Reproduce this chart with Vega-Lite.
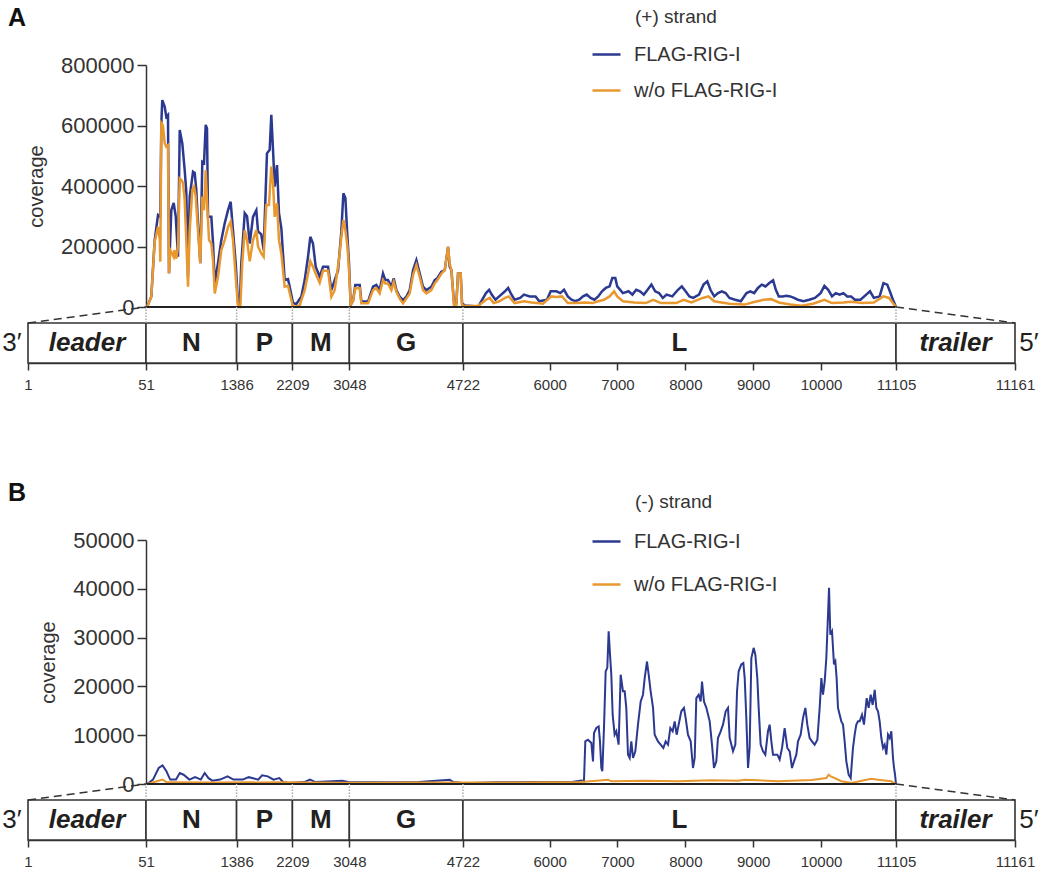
{
  "$schema": "https://vega.github.io/schema/vega-lite/v6.json",
  "padding": {"left": 2, "top": 6, "right": 2, "bottom": 0},
  "background": "white",
  "config": {
    "view": {"stroke": null},
    "font": "Liberation Sans",
    "axis": {"grid": false, "labelColor": "#333", "tickColor": "#333", "domainColor": "#333", "titleColor": "#333"},
    "legend": {"labelColor": "#333", "titleColor": "#333"}
  },
  "resolve": {"scale": {"color": "independent"}, "legend": {"color": "independent"}},
  "datasets": {
    "segments": [
      {"name": "leader", "start": 1, "end": 51},
      {"name": "N", "start": 51, "end": 1386},
      {"name": "P", "start": 1386, "end": 2209},
      {"name": "M", "start": 2209, "end": 3048},
      {"name": "G", "start": 3048, "end": 4722},
      {"name": "L", "start": 4722, "end": 11105},
      {"name": "trailer", "start": 11105, "end": 11161}
    ],
    "coverage": [
      {"strand":"+","sample":"FLAG-RIG-I","pos":66,"cov":0},
      {"strand":"+","sample":"FLAG-RIG-I","pos":129,"cov":34000},
      {"strand":"+","sample":"FLAG-RIG-I","pos":179,"cov":221000},
      {"strand":"+","sample":"FLAG-RIG-I","pos":228,"cov":304000},
      {"strand":"+","sample":"FLAG-RIG-I","pos":262,"cov":298000},
      {"strand":"+","sample":"FLAG-RIG-I","pos":277,"cov":608000},
      {"strand":"+","sample":"FLAG-RIG-I","pos":291,"cov":684000},
      {"strand":"+","sample":"FLAG-RIG-I","pos":327,"cov":662000},
      {"strand":"+","sample":"FLAG-RIG-I","pos":350,"cov":629000},
      {"strand":"+","sample":"FLAG-RIG-I","pos":375,"cov":635000},
      {"strand":"+","sample":"FLAG-RIG-I","pos":390,"cov":112000},
      {"strand":"+","sample":"FLAG-RIG-I","pos":424,"cov":320000},
      {"strand":"+","sample":"FLAG-RIG-I","pos":459,"cov":344000},
      {"strand":"+","sample":"FLAG-RIG-I","pos":489,"cov":300000},
      {"strand":"+","sample":"FLAG-RIG-I","pos":523,"cov":166000},
      {"strand":"+","sample":"FLAG-RIG-I","pos":548,"cov":585000},
      {"strand":"+","sample":"FLAG-RIG-I","pos":586,"cov":541000},
      {"strand":"+","sample":"FLAG-RIG-I","pos":621,"cov":453000},
      {"strand":"+","sample":"FLAG-RIG-I","pos":645,"cov":380000},
      {"strand":"+","sample":"FLAG-RIG-I","pos":670,"cov":100000},
      {"strand":"+","sample":"FLAG-RIG-I","pos":695,"cov":365000},
      {"strand":"+","sample":"FLAG-RIG-I","pos":744,"cov":447000},
      {"strand":"+","sample":"FLAG-RIG-I","pos":769,"cov":443000},
      {"strand":"+","sample":"FLAG-RIG-I","pos":792,"cov":387000},
      {"strand":"+","sample":"FLAG-RIG-I","pos":817,"cov":277000},
      {"strand":"+","sample":"FLAG-RIG-I","pos":851,"cov":145000},
      {"strand":"+","sample":"FLAG-RIG-I","pos":881,"cov":480000},
      {"strand":"+","sample":"FLAG-RIG-I","pos":906,"cov":476000},
      {"strand":"+","sample":"FLAG-RIG-I","pos":931,"cov":602000},
      {"strand":"+","sample":"FLAG-RIG-I","pos":950,"cov":590000},
      {"strand":"+","sample":"FLAG-RIG-I","pos":965,"cov":298000},
      {"strand":"+","sample":"FLAG-RIG-I","pos":1014,"cov":298000},
      {"strand":"+","sample":"FLAG-RIG-I","pos":1039,"cov":211000},
      {"strand":"+","sample":"FLAG-RIG-I","pos":1064,"cov":79000},
      {"strand":"+","sample":"FLAG-RIG-I","pos":1112,"cov":145000},
      {"strand":"+","sample":"FLAG-RIG-I","pos":1161,"cov":221000},
      {"strand":"+","sample":"FLAG-RIG-I","pos":1211,"cov":277000},
      {"strand":"+","sample":"FLAG-RIG-I","pos":1260,"cov":320000},
      {"strand":"+","sample":"FLAG-RIG-I","pos":1299,"cov":348000},
      {"strand":"+","sample":"FLAG-RIG-I","pos":1333,"cov":254000},
      {"strand":"+","sample":"FLAG-RIG-I","pos":1373,"cov":145000},
      {"strand":"+","sample":"FLAG-RIG-I","pos":1407,"cov":13000},
      {"strand":"+","sample":"FLAG-RIG-I","pos":1432,"cov":0},
      {"strand":"+","sample":"FLAG-RIG-I","pos":1456,"cov":145000},
      {"strand":"+","sample":"FLAG-RIG-I","pos":1506,"cov":310000},
      {"strand":"+","sample":"FLAG-RIG-I","pos":1540,"cov":300000},
      {"strand":"+","sample":"FLAG-RIG-I","pos":1580,"cov":210000},
      {"strand":"+","sample":"FLAG-RIG-I","pos":1628,"cov":298000},
      {"strand":"+","sample":"FLAG-RIG-I","pos":1677,"cov":320000},
      {"strand":"+","sample":"FLAG-RIG-I","pos":1702,"cov":250000},
      {"strand":"+","sample":"FLAG-RIG-I","pos":1750,"cov":240000},
      {"strand":"+","sample":"FLAG-RIG-I","pos":1785,"cov":188000},
      {"strand":"+","sample":"FLAG-RIG-I","pos":1834,"cov":508000},
      {"strand":"+","sample":"FLAG-RIG-I","pos":1874,"cov":520000},
      {"strand":"+","sample":"FLAG-RIG-I","pos":1898,"cov":635000},
      {"strand":"+","sample":"FLAG-RIG-I","pos":1923,"cov":520000},
      {"strand":"+","sample":"FLAG-RIG-I","pos":1948,"cov":398000},
      {"strand":"+","sample":"FLAG-RIG-I","pos":1982,"cov":469000},
      {"strand":"+","sample":"FLAG-RIG-I","pos":2011,"cov":310000},
      {"strand":"+","sample":"FLAG-RIG-I","pos":2046,"cov":260000},
      {"strand":"+","sample":"FLAG-RIG-I","pos":2095,"cov":89000},
      {"strand":"+","sample":"FLAG-RIG-I","pos":2144,"cov":92000},
      {"strand":"+","sample":"FLAG-RIG-I","pos":2169,"cov":67000},
      {"strand":"+","sample":"FLAG-RIG-I","pos":2218,"cov":13000},
      {"strand":"+","sample":"FLAG-RIG-I","pos":2266,"cov":10000},
      {"strand":"+","sample":"FLAG-RIG-I","pos":2340,"cov":34000},
      {"strand":"+","sample":"FLAG-RIG-I","pos":2390,"cov":89000},
      {"strand":"+","sample":"FLAG-RIG-I","pos":2439,"cov":166000},
      {"strand":"+","sample":"FLAG-RIG-I","pos":2473,"cov":232000},
      {"strand":"+","sample":"FLAG-RIG-I","pos":2512,"cov":210000},
      {"strand":"+","sample":"FLAG-RIG-I","pos":2552,"cov":133000},
      {"strand":"+","sample":"FLAG-RIG-I","pos":2611,"cov":100000},
      {"strand":"+","sample":"FLAG-RIG-I","pos":2660,"cov":133000},
      {"strand":"+","sample":"FLAG-RIG-I","pos":2734,"cov":133000},
      {"strand":"+","sample":"FLAG-RIG-I","pos":2783,"cov":56000},
      {"strand":"+","sample":"FLAG-RIG-I","pos":2832,"cov":89000},
      {"strand":"+","sample":"FLAG-RIG-I","pos":2881,"cov":120000},
      {"strand":"+","sample":"FLAG-RIG-I","pos":2930,"cov":250000},
      {"strand":"+","sample":"FLAG-RIG-I","pos":2960,"cov":376000},
      {"strand":"+","sample":"FLAG-RIG-I","pos":2990,"cov":360000},
      {"strand":"+","sample":"FLAG-RIG-I","pos":3014,"cov":254000},
      {"strand":"+","sample":"FLAG-RIG-I","pos":3043,"cov":145000},
      {"strand":"+","sample":"FLAG-RIG-I","pos":3068,"cov":7000},
      {"strand":"+","sample":"FLAG-RIG-I","pos":3102,"cov":20000},
      {"strand":"+","sample":"FLAG-RIG-I","pos":3136,"cov":73000},
      {"strand":"+","sample":"FLAG-RIG-I","pos":3201,"cov":73000},
      {"strand":"+","sample":"FLAG-RIG-I","pos":3225,"cov":18000},
      {"strand":"+","sample":"FLAG-RIG-I","pos":3323,"cov":18000},
      {"strand":"+","sample":"FLAG-RIG-I","pos":3397,"cov":67000},
      {"strand":"+","sample":"FLAG-RIG-I","pos":3446,"cov":73000},
      {"strand":"+","sample":"FLAG-RIG-I","pos":3495,"cov":56000},
      {"strand":"+","sample":"FLAG-RIG-I","pos":3544,"cov":111000},
      {"strand":"+","sample":"FLAG-RIG-I","pos":3578,"cov":89000},
      {"strand":"+","sample":"FLAG-RIG-I","pos":3618,"cov":89000},
      {"strand":"+","sample":"FLAG-RIG-I","pos":3667,"cov":67000},
      {"strand":"+","sample":"FLAG-RIG-I","pos":3702,"cov":95000},
      {"strand":"+","sample":"FLAG-RIG-I","pos":3741,"cov":56000},
      {"strand":"+","sample":"FLAG-RIG-I","pos":3790,"cov":34000},
      {"strand":"+","sample":"FLAG-RIG-I","pos":3839,"cov":23000},
      {"strand":"+","sample":"FLAG-RIG-I","pos":3888,"cov":34000},
      {"strand":"+","sample":"FLAG-RIG-I","pos":3938,"cov":56000},
      {"strand":"+","sample":"FLAG-RIG-I","pos":3987,"cov":122000},
      {"strand":"+","sample":"FLAG-RIG-I","pos":4036,"cov":155000},
      {"strand":"+","sample":"FLAG-RIG-I","pos":4085,"cov":111000},
      {"strand":"+","sample":"FLAG-RIG-I","pos":4134,"cov":67000},
      {"strand":"+","sample":"FLAG-RIG-I","pos":4183,"cov":56000},
      {"strand":"+","sample":"FLAG-RIG-I","pos":4257,"cov":67000},
      {"strand":"+","sample":"FLAG-RIG-I","pos":4306,"cov":89000},
      {"strand":"+","sample":"FLAG-RIG-I","pos":4345,"cov":95000},
      {"strand":"+","sample":"FLAG-RIG-I","pos":4404,"cov":117000},
      {"strand":"+","sample":"FLAG-RIG-I","pos":4454,"cov":122000},
      {"strand":"+","sample":"FLAG-RIG-I","pos":4503,"cov":199000},
      {"strand":"+","sample":"FLAG-RIG-I","pos":4527,"cov":133000},
      {"strand":"+","sample":"FLAG-RIG-I","pos":4552,"cov":122000},
      {"strand":"+","sample":"FLAG-RIG-I","pos":4591,"cov":12000},
      {"strand":"+","sample":"FLAG-RIG-I","pos":4625,"cov":12000},
      {"strand":"+","sample":"FLAG-RIG-I","pos":4650,"cov":111000},
      {"strand":"+","sample":"FLAG-RIG-I","pos":4689,"cov":111000},
      {"strand":"+","sample":"FLAG-RIG-I","pos":4709,"cov":13000},
      {"strand":"+","sample":"FLAG-RIG-I","pos":4748,"cov":5000},
      {"strand":"+","sample":"FLAG-RIG-I","pos":4950,"cov":2000},
      {"strand":"+","sample":"FLAG-RIG-I","pos":5062,"cov":46000},
      {"strand":"+","sample":"FLAG-RIG-I","pos":5108,"cov":57000},
      {"strand":"+","sample":"FLAG-RIG-I","pos":5146,"cov":41000},
      {"strand":"+","sample":"FLAG-RIG-I","pos":5202,"cov":24000},
      {"strand":"+","sample":"FLAG-RIG-I","pos":5286,"cov":41000},
      {"strand":"+","sample":"FLAG-RIG-I","pos":5342,"cov":52000},
      {"strand":"+","sample":"FLAG-RIG-I","pos":5388,"cov":63000},
      {"strand":"+","sample":"FLAG-RIG-I","pos":5426,"cov":46000},
      {"strand":"+","sample":"FLAG-RIG-I","pos":5482,"cov":24000},
      {"strand":"+","sample":"FLAG-RIG-I","pos":5566,"cov":30000},
      {"strand":"+","sample":"FLAG-RIG-I","pos":5622,"cov":41000},
      {"strand":"+","sample":"FLAG-RIG-I","pos":5706,"cov":35000},
      {"strand":"+","sample":"FLAG-RIG-I","pos":5792,"cov":35000},
      {"strand":"+","sample":"FLAG-RIG-I","pos":5848,"cov":19000},
      {"strand":"+","sample":"FLAG-RIG-I","pos":5960,"cov":24000},
      {"strand":"+","sample":"FLAG-RIG-I","pos":6016,"cov":52000},
      {"strand":"+","sample":"FLAG-RIG-I","pos":6100,"cov":52000},
      {"strand":"+","sample":"FLAG-RIG-I","pos":6156,"cov":46000},
      {"strand":"+","sample":"FLAG-RIG-I","pos":6212,"cov":57000},
      {"strand":"+","sample":"FLAG-RIG-I","pos":6267,"cov":35000},
      {"strand":"+","sample":"FLAG-RIG-I","pos":6323,"cov":24000},
      {"strand":"+","sample":"FLAG-RIG-I","pos":6380,"cov":19000},
      {"strand":"+","sample":"FLAG-RIG-I","pos":6436,"cov":24000},
      {"strand":"+","sample":"FLAG-RIG-I","pos":6492,"cov":35000},
      {"strand":"+","sample":"FLAG-RIG-I","pos":6547,"cov":41000},
      {"strand":"+","sample":"FLAG-RIG-I","pos":6603,"cov":30000},
      {"strand":"+","sample":"FLAG-RIG-I","pos":6660,"cov":24000},
      {"strand":"+","sample":"FLAG-RIG-I","pos":6716,"cov":35000},
      {"strand":"+","sample":"FLAG-RIG-I","pos":6772,"cov":52000},
      {"strand":"+","sample":"FLAG-RIG-I","pos":6828,"cov":63000},
      {"strand":"+","sample":"FLAG-RIG-I","pos":6884,"cov":68000},
      {"strand":"+","sample":"FLAG-RIG-I","pos":6924,"cov":96000},
      {"strand":"+","sample":"FLAG-RIG-I","pos":6968,"cov":96000},
      {"strand":"+","sample":"FLAG-RIG-I","pos":6996,"cov":68000},
      {"strand":"+","sample":"FLAG-RIG-I","pos":7080,"cov":46000},
      {"strand":"+","sample":"FLAG-RIG-I","pos":7164,"cov":52000},
      {"strand":"+","sample":"FLAG-RIG-I","pos":7220,"cov":41000},
      {"strand":"+","sample":"FLAG-RIG-I","pos":7276,"cov":57000},
      {"strand":"+","sample":"FLAG-RIG-I","pos":7332,"cov":52000},
      {"strand":"+","sample":"FLAG-RIG-I","pos":7388,"cov":41000},
      {"strand":"+","sample":"FLAG-RIG-I","pos":7444,"cov":57000},
      {"strand":"+","sample":"FLAG-RIG-I","pos":7500,"cov":74000},
      {"strand":"+","sample":"FLAG-RIG-I","pos":7556,"cov":52000},
      {"strand":"+","sample":"FLAG-RIG-I","pos":7612,"cov":46000},
      {"strand":"+","sample":"FLAG-RIG-I","pos":7668,"cov":30000},
      {"strand":"+","sample":"FLAG-RIG-I","pos":7724,"cov":41000},
      {"strand":"+","sample":"FLAG-RIG-I","pos":7808,"cov":35000},
      {"strand":"+","sample":"FLAG-RIG-I","pos":7892,"cov":57000},
      {"strand":"+","sample":"FLAG-RIG-I","pos":7948,"cov":68000},
      {"strand":"+","sample":"FLAG-RIG-I","pos":8004,"cov":52000},
      {"strand":"+","sample":"FLAG-RIG-I","pos":8060,"cov":35000},
      {"strand":"+","sample":"FLAG-RIG-I","pos":8116,"cov":30000},
      {"strand":"+","sample":"FLAG-RIG-I","pos":8202,"cov":41000},
      {"strand":"+","sample":"FLAG-RIG-I","pos":8268,"cov":74000},
      {"strand":"+","sample":"FLAG-RIG-I","pos":8324,"cov":85000},
      {"strand":"+","sample":"FLAG-RIG-I","pos":8370,"cov":57000},
      {"strand":"+","sample":"FLAG-RIG-I","pos":8426,"cov":35000},
      {"strand":"+","sample":"FLAG-RIG-I","pos":8482,"cov":46000},
      {"strand":"+","sample":"FLAG-RIG-I","pos":8538,"cov":52000},
      {"strand":"+","sample":"FLAG-RIG-I","pos":8594,"cov":46000},
      {"strand":"+","sample":"FLAG-RIG-I","pos":8650,"cov":30000},
      {"strand":"+","sample":"FLAG-RIG-I","pos":8734,"cov":24000},
      {"strand":"+","sample":"FLAG-RIG-I","pos":8818,"cov":19000},
      {"strand":"+","sample":"FLAG-RIG-I","pos":8902,"cov":46000},
      {"strand":"+","sample":"FLAG-RIG-I","pos":8958,"cov":52000},
      {"strand":"+","sample":"FLAG-RIG-I","pos":9014,"cov":46000},
      {"strand":"+","sample":"FLAG-RIG-I","pos":9070,"cov":63000},
      {"strand":"+","sample":"FLAG-RIG-I","pos":9126,"cov":74000},
      {"strand":"+","sample":"FLAG-RIG-I","pos":9182,"cov":68000},
      {"strand":"+","sample":"FLAG-RIG-I","pos":9238,"cov":79000},
      {"strand":"+","sample":"FLAG-RIG-I","pos":9294,"cov":88000},
      {"strand":"+","sample":"FLAG-RIG-I","pos":9334,"cov":57000},
      {"strand":"+","sample":"FLAG-RIG-I","pos":9378,"cov":35000},
      {"strand":"+","sample":"FLAG-RIG-I","pos":9434,"cov":35000},
      {"strand":"+","sample":"FLAG-RIG-I","pos":9490,"cov":37000},
      {"strand":"+","sample":"FLAG-RIG-I","pos":9546,"cov":35000},
      {"strand":"+","sample":"FLAG-RIG-I","pos":9602,"cov":30000},
      {"strand":"+","sample":"FLAG-RIG-I","pos":9658,"cov":24000},
      {"strand":"+","sample":"FLAG-RIG-I","pos":9742,"cov":19000},
      {"strand":"+","sample":"FLAG-RIG-I","pos":9826,"cov":24000},
      {"strand":"+","sample":"FLAG-RIG-I","pos":9910,"cov":30000},
      {"strand":"+","sample":"FLAG-RIG-I","pos":9994,"cov":46000},
      {"strand":"+","sample":"FLAG-RIG-I","pos":10050,"cov":70000},
      {"strand":"+","sample":"FLAG-RIG-I","pos":10106,"cov":57000},
      {"strand":"+","sample":"FLAG-RIG-I","pos":10162,"cov":35000},
      {"strand":"+","sample":"FLAG-RIG-I","pos":10218,"cov":46000},
      {"strand":"+","sample":"FLAG-RIG-I","pos":10274,"cov":41000},
      {"strand":"+","sample":"FLAG-RIG-I","pos":10330,"cov":46000},
      {"strand":"+","sample":"FLAG-RIG-I","pos":10386,"cov":35000},
      {"strand":"+","sample":"FLAG-RIG-I","pos":10442,"cov":35000},
      {"strand":"+","sample":"FLAG-RIG-I","pos":10498,"cov":24000},
      {"strand":"+","sample":"FLAG-RIG-I","pos":10582,"cov":24000},
      {"strand":"+","sample":"FLAG-RIG-I","pos":10666,"cov":41000},
      {"strand":"+","sample":"FLAG-RIG-I","pos":10722,"cov":52000},
      {"strand":"+","sample":"FLAG-RIG-I","pos":10778,"cov":30000},
      {"strand":"+","sample":"FLAG-RIG-I","pos":10864,"cov":35000},
      {"strand":"+","sample":"FLAG-RIG-I","pos":10920,"cov":79000},
      {"strand":"+","sample":"FLAG-RIG-I","pos":10976,"cov":74000},
      {"strand":"+","sample":"FLAG-RIG-I","pos":11014,"cov":52000},
      {"strand":"+","sample":"FLAG-RIG-I","pos":11060,"cov":24000},
      {"strand":"+","sample":"FLAG-RIG-I","pos":11105,"cov":0},
      {"strand":"+","sample":"w/o FLAG-RIG-I","pos":66,"cov":0},
      {"strand":"+","sample":"w/o FLAG-RIG-I","pos":129,"cov":34000},
      {"strand":"+","sample":"w/o FLAG-RIG-I","pos":179,"cov":215000},
      {"strand":"+","sample":"w/o FLAG-RIG-I","pos":228,"cov":265000},
      {"strand":"+","sample":"w/o FLAG-RIG-I","pos":255,"cov":221000},
      {"strand":"+","sample":"w/o FLAG-RIG-I","pos":262,"cov":150000},
      {"strand":"+","sample":"w/o FLAG-RIG-I","pos":277,"cov":608000},
      {"strand":"+","sample":"w/o FLAG-RIG-I","pos":300,"cov":600000},
      {"strand":"+","sample":"w/o FLAG-RIG-I","pos":327,"cov":541000},
      {"strand":"+","sample":"w/o FLAG-RIG-I","pos":350,"cov":530000},
      {"strand":"+","sample":"w/o FLAG-RIG-I","pos":375,"cov":535000},
      {"strand":"+","sample":"w/o FLAG-RIG-I","pos":390,"cov":111000},
      {"strand":"+","sample":"w/o FLAG-RIG-I","pos":410,"cov":188000},
      {"strand":"+","sample":"w/o FLAG-RIG-I","pos":459,"cov":166000},
      {"strand":"+","sample":"w/o FLAG-RIG-I","pos":470,"cov":188000},
      {"strand":"+","sample":"w/o FLAG-RIG-I","pos":499,"cov":160000},
      {"strand":"+","sample":"w/o FLAG-RIG-I","pos":523,"cov":199000},
      {"strand":"+","sample":"w/o FLAG-RIG-I","pos":548,"cov":425000},
      {"strand":"+","sample":"w/o FLAG-RIG-I","pos":572,"cov":420000},
      {"strand":"+","sample":"w/o FLAG-RIG-I","pos":596,"cov":410000},
      {"strand":"+","sample":"w/o FLAG-RIG-I","pos":621,"cov":354000},
      {"strand":"+","sample":"w/o FLAG-RIG-I","pos":645,"cov":221000},
      {"strand":"+","sample":"w/o FLAG-RIG-I","pos":670,"cov":67000},
      {"strand":"+","sample":"w/o FLAG-RIG-I","pos":695,"cov":254000},
      {"strand":"+","sample":"w/o FLAG-RIG-I","pos":734,"cov":387000},
      {"strand":"+","sample":"w/o FLAG-RIG-I","pos":759,"cov":398000},
      {"strand":"+","sample":"w/o FLAG-RIG-I","pos":784,"cov":365000},
      {"strand":"+","sample":"w/o FLAG-RIG-I","pos":817,"cov":254000},
      {"strand":"+","sample":"w/o FLAG-RIG-I","pos":851,"cov":145000},
      {"strand":"+","sample":"w/o FLAG-RIG-I","pos":881,"cov":365000},
      {"strand":"+","sample":"w/o FLAG-RIG-I","pos":906,"cov":320000},
      {"strand":"+","sample":"w/o FLAG-RIG-I","pos":931,"cov":453000},
      {"strand":"+","sample":"w/o FLAG-RIG-I","pos":950,"cov":354000},
      {"strand":"+","sample":"w/o FLAG-RIG-I","pos":980,"cov":221000},
      {"strand":"+","sample":"w/o FLAG-RIG-I","pos":1014,"cov":210000},
      {"strand":"+","sample":"w/o FLAG-RIG-I","pos":1039,"cov":155000},
      {"strand":"+","sample":"w/o FLAG-RIG-I","pos":1064,"cov":45000},
      {"strand":"+","sample":"w/o FLAG-RIG-I","pos":1112,"cov":100000},
      {"strand":"+","sample":"w/o FLAG-RIG-I","pos":1161,"cov":188000},
      {"strand":"+","sample":"w/o FLAG-RIG-I","pos":1211,"cov":221000},
      {"strand":"+","sample":"w/o FLAG-RIG-I","pos":1260,"cov":265000},
      {"strand":"+","sample":"w/o FLAG-RIG-I","pos":1299,"cov":282000},
      {"strand":"+","sample":"w/o FLAG-RIG-I","pos":1333,"cov":221000},
      {"strand":"+","sample":"w/o FLAG-RIG-I","pos":1373,"cov":100000},
      {"strand":"+","sample":"w/o FLAG-RIG-I","pos":1407,"cov":0},
      {"strand":"+","sample":"w/o FLAG-RIG-I","pos":1441,"cov":0},
      {"strand":"+","sample":"w/o FLAG-RIG-I","pos":1470,"cov":145000},
      {"strand":"+","sample":"w/o FLAG-RIG-I","pos":1506,"cov":254000},
      {"strand":"+","sample":"w/o FLAG-RIG-I","pos":1540,"cov":221000},
      {"strand":"+","sample":"w/o FLAG-RIG-I","pos":1580,"cov":151000},
      {"strand":"+","sample":"w/o FLAG-RIG-I","pos":1628,"cov":221000},
      {"strand":"+","sample":"w/o FLAG-RIG-I","pos":1677,"cov":254000},
      {"strand":"+","sample":"w/o FLAG-RIG-I","pos":1702,"cov":200000},
      {"strand":"+","sample":"w/o FLAG-RIG-I","pos":1750,"cov":177000},
      {"strand":"+","sample":"w/o FLAG-RIG-I","pos":1785,"cov":166000},
      {"strand":"+","sample":"w/o FLAG-RIG-I","pos":1824,"cov":337000},
      {"strand":"+","sample":"w/o FLAG-RIG-I","pos":1863,"cov":337000},
      {"strand":"+","sample":"w/o FLAG-RIG-I","pos":1898,"cov":464000},
      {"strand":"+","sample":"w/o FLAG-RIG-I","pos":1923,"cov":410000},
      {"strand":"+","sample":"w/o FLAG-RIG-I","pos":1948,"cov":298000},
      {"strand":"+","sample":"w/o FLAG-RIG-I","pos":1982,"cov":343000},
      {"strand":"+","sample":"w/o FLAG-RIG-I","pos":2011,"cov":221000},
      {"strand":"+","sample":"w/o FLAG-RIG-I","pos":2046,"cov":177000},
      {"strand":"+","sample":"w/o FLAG-RIG-I","pos":2095,"cov":67000},
      {"strand":"+","sample":"w/o FLAG-RIG-I","pos":2144,"cov":70000},
      {"strand":"+","sample":"w/o FLAG-RIG-I","pos":2218,"cov":0},
      {"strand":"+","sample":"w/o FLAG-RIG-I","pos":2316,"cov":5000},
      {"strand":"+","sample":"w/o FLAG-RIG-I","pos":2390,"cov":56000},
      {"strand":"+","sample":"w/o FLAG-RIG-I","pos":2439,"cov":110000},
      {"strand":"+","sample":"w/o FLAG-RIG-I","pos":2473,"cov":151000},
      {"strand":"+","sample":"w/o FLAG-RIG-I","pos":2512,"cov":133000},
      {"strand":"+","sample":"w/o FLAG-RIG-I","pos":2552,"cov":110000},
      {"strand":"+","sample":"w/o FLAG-RIG-I","pos":2611,"cov":80000},
      {"strand":"+","sample":"w/o FLAG-RIG-I","pos":2660,"cov":120000},
      {"strand":"+","sample":"w/o FLAG-RIG-I","pos":2734,"cov":120000},
      {"strand":"+","sample":"w/o FLAG-RIG-I","pos":2783,"cov":34000},
      {"strand":"+","sample":"w/o FLAG-RIG-I","pos":2832,"cov":56000},
      {"strand":"+","sample":"w/o FLAG-RIG-I","pos":2860,"cov":100000},
      {"strand":"+","sample":"w/o FLAG-RIG-I","pos":2900,"cov":166000},
      {"strand":"+","sample":"w/o FLAG-RIG-I","pos":2925,"cov":221000},
      {"strand":"+","sample":"w/o FLAG-RIG-I","pos":2960,"cov":288000},
      {"strand":"+","sample":"w/o FLAG-RIG-I","pos":2990,"cov":254000},
      {"strand":"+","sample":"w/o FLAG-RIG-I","pos":3020,"cov":199000},
      {"strand":"+","sample":"w/o FLAG-RIG-I","pos":3043,"cov":122000},
      {"strand":"+","sample":"w/o FLAG-RIG-I","pos":3068,"cov":7000},
      {"strand":"+","sample":"w/o FLAG-RIG-I","pos":3102,"cov":20000},
      {"strand":"+","sample":"w/o FLAG-RIG-I","pos":3136,"cov":62000},
      {"strand":"+","sample":"w/o FLAG-RIG-I","pos":3201,"cov":62000},
      {"strand":"+","sample":"w/o FLAG-RIG-I","pos":3225,"cov":12000},
      {"strand":"+","sample":"w/o FLAG-RIG-I","pos":3323,"cov":12000},
      {"strand":"+","sample":"w/o FLAG-RIG-I","pos":3397,"cov":56000},
      {"strand":"+","sample":"w/o FLAG-RIG-I","pos":3446,"cov":62000},
      {"strand":"+","sample":"w/o FLAG-RIG-I","pos":3495,"cov":45000},
      {"strand":"+","sample":"w/o FLAG-RIG-I","pos":3544,"cov":89000},
      {"strand":"+","sample":"w/o FLAG-RIG-I","pos":3578,"cov":78000},
      {"strand":"+","sample":"w/o FLAG-RIG-I","pos":3618,"cov":78000},
      {"strand":"+","sample":"w/o FLAG-RIG-I","pos":3667,"cov":56000},
      {"strand":"+","sample":"w/o FLAG-RIG-I","pos":3702,"cov":83000},
      {"strand":"+","sample":"w/o FLAG-RIG-I","pos":3741,"cov":50000},
      {"strand":"+","sample":"w/o FLAG-RIG-I","pos":3790,"cov":28000},
      {"strand":"+","sample":"w/o FLAG-RIG-I","pos":3839,"cov":12000},
      {"strand":"+","sample":"w/o FLAG-RIG-I","pos":3888,"cov":28000},
      {"strand":"+","sample":"w/o FLAG-RIG-I","pos":3938,"cov":45000},
      {"strand":"+","sample":"w/o FLAG-RIG-I","pos":3987,"cov":106000},
      {"strand":"+","sample":"w/o FLAG-RIG-I","pos":4036,"cov":139000},
      {"strand":"+","sample":"w/o FLAG-RIG-I","pos":4085,"cov":100000},
      {"strand":"+","sample":"w/o FLAG-RIG-I","pos":4134,"cov":56000},
      {"strand":"+","sample":"w/o FLAG-RIG-I","pos":4183,"cov":45000},
      {"strand":"+","sample":"w/o FLAG-RIG-I","pos":4257,"cov":56000},
      {"strand":"+","sample":"w/o FLAG-RIG-I","pos":4306,"cov":78000},
      {"strand":"+","sample":"w/o FLAG-RIG-I","pos":4345,"cov":89000},
      {"strand":"+","sample":"w/o FLAG-RIG-I","pos":4404,"cov":110000},
      {"strand":"+","sample":"w/o FLAG-RIG-I","pos":4454,"cov":122000},
      {"strand":"+","sample":"w/o FLAG-RIG-I","pos":4503,"cov":199000},
      {"strand":"+","sample":"w/o FLAG-RIG-I","pos":4527,"cov":144000},
      {"strand":"+","sample":"w/o FLAG-RIG-I","pos":4552,"cov":122000},
      {"strand":"+","sample":"w/o FLAG-RIG-I","pos":4591,"cov":7000},
      {"strand":"+","sample":"w/o FLAG-RIG-I","pos":4625,"cov":7000},
      {"strand":"+","sample":"w/o FLAG-RIG-I","pos":4650,"cov":111000},
      {"strand":"+","sample":"w/o FLAG-RIG-I","pos":4689,"cov":111000},
      {"strand":"+","sample":"w/o FLAG-RIG-I","pos":4709,"cov":7000},
      {"strand":"+","sample":"w/o FLAG-RIG-I","pos":4748,"cov":3000},
      {"strand":"+","sample":"w/o FLAG-RIG-I","pos":4950,"cov":4400},
      {"strand":"+","sample":"w/o FLAG-RIG-I","pos":5062,"cov":24000},
      {"strand":"+","sample":"w/o FLAG-RIG-I","pos":5118,"cov":30000},
      {"strand":"+","sample":"w/o FLAG-RIG-I","pos":5174,"cov":13000},
      {"strand":"+","sample":"w/o FLAG-RIG-I","pos":5259,"cov":19000},
      {"strand":"+","sample":"w/o FLAG-RIG-I","pos":5343,"cov":30000},
      {"strand":"+","sample":"w/o FLAG-RIG-I","pos":5399,"cov":35000},
      {"strand":"+","sample":"w/o FLAG-RIG-I","pos":5483,"cov":13000},
      {"strand":"+","sample":"w/o FLAG-RIG-I","pos":5623,"cov":19000},
      {"strand":"+","sample":"w/o FLAG-RIG-I","pos":5735,"cov":15000},
      {"strand":"+","sample":"w/o FLAG-RIG-I","pos":5903,"cov":11000},
      {"strand":"+","sample":"w/o FLAG-RIG-I","pos":6026,"cov":35000},
      {"strand":"+","sample":"w/o FLAG-RIG-I","pos":6099,"cov":33000},
      {"strand":"+","sample":"w/o FLAG-RIG-I","pos":6183,"cov":35000},
      {"strand":"+","sample":"w/o FLAG-RIG-I","pos":6267,"cov":13000},
      {"strand":"+","sample":"w/o FLAG-RIG-I","pos":6407,"cov":13000},
      {"strand":"+","sample":"w/o FLAG-RIG-I","pos":6519,"cov":15000},
      {"strand":"+","sample":"w/o FLAG-RIG-I","pos":6632,"cov":13000},
      {"strand":"+","sample":"w/o FLAG-RIG-I","pos":6716,"cov":19000},
      {"strand":"+","sample":"w/o FLAG-RIG-I","pos":6800,"cov":24000},
      {"strand":"+","sample":"w/o FLAG-RIG-I","pos":6884,"cov":35000},
      {"strand":"+","sample":"w/o FLAG-RIG-I","pos":6951,"cov":52000},
      {"strand":"+","sample":"w/o FLAG-RIG-I","pos":6996,"cov":35000},
      {"strand":"+","sample":"w/o FLAG-RIG-I","pos":7080,"cov":19000},
      {"strand":"+","sample":"w/o FLAG-RIG-I","pos":7248,"cov":15000},
      {"strand":"+","sample":"w/o FLAG-RIG-I","pos":7416,"cov":13000},
      {"strand":"+","sample":"w/o FLAG-RIG-I","pos":7528,"cov":24000},
      {"strand":"+","sample":"w/o FLAG-RIG-I","pos":7640,"cov":13000},
      {"strand":"+","sample":"w/o FLAG-RIG-I","pos":7864,"cov":13000},
      {"strand":"+","sample":"w/o FLAG-RIG-I","pos":7976,"cov":24000},
      {"strand":"+","sample":"w/o FLAG-RIG-I","pos":8089,"cov":15000},
      {"strand":"+","sample":"w/o FLAG-RIG-I","pos":8257,"cov":30000},
      {"strand":"+","sample":"w/o FLAG-RIG-I","pos":8341,"cov":35000},
      {"strand":"+","sample":"w/o FLAG-RIG-I","pos":8425,"cov":19000},
      {"strand":"+","sample":"w/o FLAG-RIG-I","pos":8649,"cov":11000},
      {"strand":"+","sample":"w/o FLAG-RIG-I","pos":8873,"cov":8000},
      {"strand":"+","sample":"w/o FLAG-RIG-I","pos":8985,"cov":15000},
      {"strand":"+","sample":"w/o FLAG-RIG-I","pos":9153,"cov":24000},
      {"strand":"+","sample":"w/o FLAG-RIG-I","pos":9265,"cov":26000},
      {"strand":"+","sample":"w/o FLAG-RIG-I","pos":9378,"cov":15000},
      {"strand":"+","sample":"w/o FLAG-RIG-I","pos":9546,"cov":8000},
      {"strand":"+","sample":"w/o FLAG-RIG-I","pos":9714,"cov":4400},
      {"strand":"+","sample":"w/o FLAG-RIG-I","pos":9882,"cov":11000},
      {"strand":"+","sample":"w/o FLAG-RIG-I","pos":10050,"cov":24000},
      {"strand":"+","sample":"w/o FLAG-RIG-I","pos":10162,"cov":13000},
      {"strand":"+","sample":"w/o FLAG-RIG-I","pos":10330,"cov":15000},
      {"strand":"+","sample":"w/o FLAG-RIG-I","pos":10442,"cov":17000},
      {"strand":"+","sample":"w/o FLAG-RIG-I","pos":10610,"cov":13000},
      {"strand":"+","sample":"w/o FLAG-RIG-I","pos":10778,"cov":15000},
      {"strand":"+","sample":"w/o FLAG-RIG-I","pos":10918,"cov":35000},
      {"strand":"+","sample":"w/o FLAG-RIG-I","pos":11003,"cov":30000},
      {"strand":"+","sample":"w/o FLAG-RIG-I","pos":11058,"cov":13000},
      {"strand":"+","sample":"w/o FLAG-RIG-I","pos":11105,"cov":0},
      {"strand":"-","sample":"FLAG-RIG-I","pos":70,"cov":0},
      {"strand":"-","sample":"FLAG-RIG-I","pos":154,"cov":900},
      {"strand":"-","sample":"FLAG-RIG-I","pos":238,"cov":3280},
      {"strand":"-","sample":"FLAG-RIG-I","pos":295,"cov":3800},
      {"strand":"-","sample":"FLAG-RIG-I","pos":352,"cov":2600},
      {"strand":"-","sample":"FLAG-RIG-I","pos":408,"cov":900},
      {"strand":"-","sample":"FLAG-RIG-I","pos":493,"cov":900},
      {"strand":"-","sample":"FLAG-RIG-I","pos":549,"cov":2250},
      {"strand":"-","sample":"FLAG-RIG-I","pos":605,"cov":1900},
      {"strand":"-","sample":"FLAG-RIG-I","pos":690,"cov":900},
      {"strand":"-","sample":"FLAG-RIG-I","pos":775,"cov":1400},
      {"strand":"-","sample":"FLAG-RIG-I","pos":859,"cov":900},
      {"strand":"-","sample":"FLAG-RIG-I","pos":916,"cov":2250},
      {"strand":"-","sample":"FLAG-RIG-I","pos":972,"cov":1200},
      {"strand":"-","sample":"FLAG-RIG-I","pos":1028,"cov":680},
      {"strand":"-","sample":"FLAG-RIG-I","pos":1142,"cov":900},
      {"strand":"-","sample":"FLAG-RIG-I","pos":1254,"cov":1570},
      {"strand":"-","sample":"FLAG-RIG-I","pos":1339,"cov":900},
      {"strand":"-","sample":"FLAG-RIG-I","pos":1479,"cov":900},
      {"strand":"-","sample":"FLAG-RIG-I","pos":1565,"cov":1400},
      {"strand":"-","sample":"FLAG-RIG-I","pos":1705,"cov":900},
      {"strand":"-","sample":"FLAG-RIG-I","pos":1762,"cov":1780},
      {"strand":"-","sample":"FLAG-RIG-I","pos":1846,"cov":1570},
      {"strand":"-","sample":"FLAG-RIG-I","pos":1930,"cov":900},
      {"strand":"-","sample":"FLAG-RIG-I","pos":2016,"cov":1200},
      {"strand":"-","sample":"FLAG-RIG-I","pos":2072,"cov":400},
      {"strand":"-","sample":"FLAG-RIG-I","pos":2157,"cov":200},
      {"strand":"-","sample":"FLAG-RIG-I","pos":2383,"cov":400},
      {"strand":"-","sample":"FLAG-RIG-I","pos":2467,"cov":890},
      {"strand":"-","sample":"FLAG-RIG-I","pos":2551,"cov":400},
      {"strand":"-","sample":"FLAG-RIG-I","pos":2946,"cov":680},
      {"strand":"-","sample":"FLAG-RIG-I","pos":3031,"cov":400},
      {"strand":"-","sample":"FLAG-RIG-I","pos":3510,"cov":350},
      {"strand":"-","sample":"FLAG-RIG-I","pos":4075,"cov":400},
      {"strand":"-","sample":"FLAG-RIG-I","pos":4526,"cov":890},
      {"strand":"-","sample":"FLAG-RIG-I","pos":4582,"cov":400},
      {"strand":"-","sample":"FLAG-RIG-I","pos":4751,"cov":150},
      {"strand":"-","sample":"FLAG-RIG-I","pos":5202,"cov":350},
      {"strand":"-","sample":"FLAG-RIG-I","pos":5767,"cov":400},
      {"strand":"-","sample":"FLAG-RIG-I","pos":6330,"cov":400},
      {"strand":"-","sample":"FLAG-RIG-I","pos":6471,"cov":700},
      {"strand":"-","sample":"FLAG-RIG-I","pos":6506,"cov":550},
      {"strand":"-","sample":"FLAG-RIG-I","pos":6526,"cov":8740},
      {"strand":"-","sample":"FLAG-RIG-I","pos":6565,"cov":9080},
      {"strand":"-","sample":"FLAG-RIG-I","pos":6615,"cov":8400},
      {"strand":"-","sample":"FLAG-RIG-I","pos":6639,"cov":4640},
      {"strand":"-","sample":"FLAG-RIG-I","pos":6654,"cov":10450},
      {"strand":"-","sample":"FLAG-RIG-I","pos":6688,"cov":11470},
      {"strand":"-","sample":"FLAG-RIG-I","pos":6723,"cov":11800},
      {"strand":"-","sample":"FLAG-RIG-I","pos":6742,"cov":8740},
      {"strand":"-","sample":"FLAG-RIG-I","pos":6762,"cov":3280},
      {"strand":"-","sample":"FLAG-RIG-I","pos":6777,"cov":2600},
      {"strand":"-","sample":"FLAG-RIG-I","pos":6801,"cov":11470},
      {"strand":"-","sample":"FLAG-RIG-I","pos":6826,"cov":23100},
      {"strand":"-","sample":"FLAG-RIG-I","pos":6850,"cov":23800},
      {"strand":"-","sample":"FLAG-RIG-I","pos":6870,"cov":31300},
      {"strand":"-","sample":"FLAG-RIG-I","pos":6890,"cov":26500},
      {"strand":"-","sample":"FLAG-RIG-I","pos":6909,"cov":22400},
      {"strand":"-","sample":"FLAG-RIG-I","pos":6929,"cov":14200},
      {"strand":"-","sample":"FLAG-RIG-I","pos":6958,"cov":10100},
      {"strand":"-","sample":"FLAG-RIG-I","pos":6983,"cov":10800},
      {"strand":"-","sample":"FLAG-RIG-I","pos":7017,"cov":8060},
      {"strand":"-","sample":"FLAG-RIG-I","pos":7047,"cov":22400},
      {"strand":"-","sample":"FLAG-RIG-I","pos":7081,"cov":19000},
      {"strand":"-","sample":"FLAG-RIG-I","pos":7106,"cov":19000},
      {"strand":"-","sample":"FLAG-RIG-I","pos":7130,"cov":15600},
      {"strand":"-","sample":"FLAG-RIG-I","pos":7155,"cov":6010},
      {"strand":"-","sample":"FLAG-RIG-I","pos":7180,"cov":5330},
      {"strand":"-","sample":"FLAG-RIG-I","pos":7204,"cov":8740},
      {"strand":"-","sample":"FLAG-RIG-I","pos":7229,"cov":5330},
      {"strand":"-","sample":"FLAG-RIG-I","pos":7263,"cov":6700},
      {"strand":"-","sample":"FLAG-RIG-I","pos":7302,"cov":12160},
      {"strand":"-","sample":"FLAG-RIG-I","pos":7342,"cov":16900},
      {"strand":"-","sample":"FLAG-RIG-I","pos":7376,"cov":18300},
      {"strand":"-","sample":"FLAG-RIG-I","pos":7401,"cov":21700},
      {"strand":"-","sample":"FLAG-RIG-I","pos":7435,"cov":25100},
      {"strand":"-","sample":"FLAG-RIG-I","pos":7460,"cov":22400},
      {"strand":"-","sample":"FLAG-RIG-I","pos":7489,"cov":19000},
      {"strand":"-","sample":"FLAG-RIG-I","pos":7524,"cov":15600},
      {"strand":"-","sample":"FLAG-RIG-I","pos":7548,"cov":10100},
      {"strand":"-","sample":"FLAG-RIG-I","pos":7597,"cov":8740},
      {"strand":"-","sample":"FLAG-RIG-I","pos":7636,"cov":8060},
      {"strand":"-","sample":"FLAG-RIG-I","pos":7676,"cov":7380},
      {"strand":"-","sample":"FLAG-RIG-I","pos":7710,"cov":8740},
      {"strand":"-","sample":"FLAG-RIG-I","pos":7745,"cov":8060},
      {"strand":"-","sample":"FLAG-RIG-I","pos":7779,"cov":11470},
      {"strand":"-","sample":"FLAG-RIG-I","pos":7813,"cov":10800},
      {"strand":"-","sample":"FLAG-RIG-I","pos":7843,"cov":12840},
      {"strand":"-","sample":"FLAG-RIG-I","pos":7872,"cov":10100},
      {"strand":"-","sample":"FLAG-RIG-I","pos":7902,"cov":12160},
      {"strand":"-","sample":"FLAG-RIG-I","pos":7941,"cov":14900},
      {"strand":"-","sample":"FLAG-RIG-I","pos":7980,"cov":15600},
      {"strand":"-","sample":"FLAG-RIG-I","pos":8005,"cov":13500},
      {"strand":"-","sample":"FLAG-RIG-I","pos":8039,"cov":10100},
      {"strand":"-","sample":"FLAG-RIG-I","pos":8079,"cov":8740},
      {"strand":"-","sample":"FLAG-RIG-I","pos":8113,"cov":3280},
      {"strand":"-","sample":"FLAG-RIG-I","pos":8138,"cov":5330},
      {"strand":"-","sample":"FLAG-RIG-I","pos":8162,"cov":17600},
      {"strand":"-","sample":"FLAG-RIG-I","pos":8197,"cov":18300},
      {"strand":"-","sample":"FLAG-RIG-I","pos":8226,"cov":16900},
      {"strand":"-","sample":"FLAG-RIG-I","pos":8246,"cov":21000},
      {"strand":"-","sample":"FLAG-RIG-I","pos":8275,"cov":16900},
      {"strand":"-","sample":"FLAG-RIG-I","pos":8310,"cov":15600},
      {"strand":"-","sample":"FLAG-RIG-I","pos":8359,"cov":12840},
      {"strand":"-","sample":"FLAG-RIG-I","pos":8393,"cov":8060},
      {"strand":"-","sample":"FLAG-RIG-I","pos":8422,"cov":3280},
      {"strand":"-","sample":"FLAG-RIG-I","pos":8457,"cov":4640},
      {"strand":"-","sample":"FLAG-RIG-I","pos":8481,"cov":9420},
      {"strand":"-","sample":"FLAG-RIG-I","pos":8521,"cov":10800},
      {"strand":"-","sample":"FLAG-RIG-I","pos":8555,"cov":12160},
      {"strand":"-","sample":"FLAG-RIG-I","pos":8595,"cov":14900},
      {"strand":"-","sample":"FLAG-RIG-I","pos":8629,"cov":15600},
      {"strand":"-","sample":"FLAG-RIG-I","pos":8654,"cov":9420},
      {"strand":"-","sample":"FLAG-RIG-I","pos":8703,"cov":6700},
      {"strand":"-","sample":"FLAG-RIG-I","pos":8737,"cov":8060},
      {"strand":"-","sample":"FLAG-RIG-I","pos":8762,"cov":19000},
      {"strand":"-","sample":"FLAG-RIG-I","pos":8786,"cov":23100},
      {"strand":"-","sample":"FLAG-RIG-I","pos":8825,"cov":24500},
      {"strand":"-","sample":"FLAG-RIG-I","pos":8855,"cov":24800},
      {"strand":"-","sample":"FLAG-RIG-I","pos":8875,"cov":21700},
      {"strand":"-","sample":"FLAG-RIG-I","pos":8899,"cov":13500},
      {"strand":"-","sample":"FLAG-RIG-I","pos":8924,"cov":3280},
      {"strand":"-","sample":"FLAG-RIG-I","pos":8948,"cov":7380},
      {"strand":"-","sample":"FLAG-RIG-I","pos":8973,"cov":25800},
      {"strand":"-","sample":"FLAG-RIG-I","pos":9007,"cov":27900},
      {"strand":"-","sample":"FLAG-RIG-I","pos":9032,"cov":26500},
      {"strand":"-","sample":"FLAG-RIG-I","pos":9061,"cov":21700},
      {"strand":"-","sample":"FLAG-RIG-I","pos":9081,"cov":15600},
      {"strand":"-","sample":"FLAG-RIG-I","pos":9110,"cov":8060},
      {"strand":"-","sample":"FLAG-RIG-I","pos":9145,"cov":6700},
      {"strand":"-","sample":"FLAG-RIG-I","pos":9179,"cov":6010},
      {"strand":"-","sample":"FLAG-RIG-I","pos":9218,"cov":10800},
      {"strand":"-","sample":"FLAG-RIG-I","pos":9243,"cov":12160},
      {"strand":"-","sample":"FLAG-RIG-I","pos":9268,"cov":8740},
      {"strand":"-","sample":"FLAG-RIG-I","pos":9292,"cov":6010},
      {"strand":"-","sample":"FLAG-RIG-I","pos":9356,"cov":6010},
      {"strand":"-","sample":"FLAG-RIG-I","pos":9390,"cov":5000},
      {"strand":"-","sample":"FLAG-RIG-I","pos":9425,"cov":7380},
      {"strand":"-","sample":"FLAG-RIG-I","pos":9464,"cov":11470},
      {"strand":"-","sample":"FLAG-RIG-I","pos":9503,"cov":7380},
      {"strand":"-","sample":"FLAG-RIG-I","pos":9538,"cov":6700},
      {"strand":"-","sample":"FLAG-RIG-I","pos":9572,"cov":3280},
      {"strand":"-","sample":"FLAG-RIG-I","pos":9602,"cov":4640},
      {"strand":"-","sample":"FLAG-RIG-I","pos":9636,"cov":6010},
      {"strand":"-","sample":"FLAG-RIG-I","pos":9661,"cov":8740},
      {"strand":"-","sample":"FLAG-RIG-I","pos":9700,"cov":10100},
      {"strand":"-","sample":"FLAG-RIG-I","pos":9734,"cov":13500},
      {"strand":"-","sample":"FLAG-RIG-I","pos":9769,"cov":15600},
      {"strand":"-","sample":"FLAG-RIG-I","pos":9798,"cov":12160},
      {"strand":"-","sample":"FLAG-RIG-I","pos":9832,"cov":9420},
      {"strand":"-","sample":"FLAG-RIG-I","pos":9867,"cov":8740},
      {"strand":"-","sample":"FLAG-RIG-I","pos":9906,"cov":8060},
      {"strand":"-","sample":"FLAG-RIG-I","pos":9946,"cov":9080},
      {"strand":"-","sample":"FLAG-RIG-I","pos":9980,"cov":15600},
      {"strand":"-","sample":"FLAG-RIG-I","pos":10005,"cov":21700},
      {"strand":"-","sample":"FLAG-RIG-I","pos":10029,"cov":18300},
      {"strand":"-","sample":"FLAG-RIG-I","pos":10054,"cov":21000},
      {"strand":"-","sample":"FLAG-RIG-I","pos":10078,"cov":25800},
      {"strand":"-","sample":"FLAG-RIG-I","pos":10103,"cov":34700},
      {"strand":"-","sample":"FLAG-RIG-I","pos":10118,"cov":40200},
      {"strand":"-","sample":"FLAG-RIG-I","pos":10137,"cov":30600},
      {"strand":"-","sample":"FLAG-RIG-I","pos":10162,"cov":31300},
      {"strand":"-","sample":"FLAG-RIG-I","pos":10191,"cov":24500},
      {"strand":"-","sample":"FLAG-RIG-I","pos":10211,"cov":25100},
      {"strand":"-","sample":"FLAG-RIG-I","pos":10230,"cov":21700},
      {"strand":"-","sample":"FLAG-RIG-I","pos":10250,"cov":15600},
      {"strand":"-","sample":"FLAG-RIG-I","pos":10275,"cov":14200},
      {"strand":"-","sample":"FLAG-RIG-I","pos":10299,"cov":12840},
      {"strand":"-","sample":"FLAG-RIG-I","pos":10324,"cov":12160},
      {"strand":"-","sample":"FLAG-RIG-I","pos":10348,"cov":8740},
      {"strand":"-","sample":"FLAG-RIG-I","pos":10373,"cov":4640},
      {"strand":"-","sample":"FLAG-RIG-I","pos":10407,"cov":1910},
      {"strand":"-","sample":"FLAG-RIG-I","pos":10437,"cov":1230},
      {"strand":"-","sample":"FLAG-RIG-I","pos":10471,"cov":7380},
      {"strand":"-","sample":"FLAG-RIG-I","pos":10496,"cov":10100},
      {"strand":"-","sample":"FLAG-RIG-I","pos":10520,"cov":12160},
      {"strand":"-","sample":"FLAG-RIG-I","pos":10545,"cov":12840},
      {"strand":"-","sample":"FLAG-RIG-I","pos":10570,"cov":12840},
      {"strand":"-","sample":"FLAG-RIG-I","pos":10604,"cov":14200},
      {"strand":"-","sample":"FLAG-RIG-I","pos":10633,"cov":12160},
      {"strand":"-","sample":"FLAG-RIG-I","pos":10653,"cov":14900},
      {"strand":"-","sample":"FLAG-RIG-I","pos":10673,"cov":17600},
      {"strand":"-","sample":"FLAG-RIG-I","pos":10702,"cov":15600},
      {"strand":"-","sample":"FLAG-RIG-I","pos":10732,"cov":18300},
      {"strand":"-","sample":"FLAG-RIG-I","pos":10761,"cov":16200},
      {"strand":"-","sample":"FLAG-RIG-I","pos":10791,"cov":19300},
      {"strand":"-","sample":"FLAG-RIG-I","pos":10815,"cov":15600},
      {"strand":"-","sample":"FLAG-RIG-I","pos":10840,"cov":14900},
      {"strand":"-","sample":"FLAG-RIG-I","pos":10864,"cov":12840},
      {"strand":"-","sample":"FLAG-RIG-I","pos":10889,"cov":9420},
      {"strand":"-","sample":"FLAG-RIG-I","pos":10914,"cov":7380},
      {"strand":"-","sample":"FLAG-RIG-I","pos":10938,"cov":8060},
      {"strand":"-","sample":"FLAG-RIG-I","pos":10963,"cov":6010},
      {"strand":"-","sample":"FLAG-RIG-I","pos":10987,"cov":10100},
      {"strand":"-","sample":"FLAG-RIG-I","pos":11012,"cov":9420},
      {"strand":"-","sample":"FLAG-RIG-I","pos":11036,"cov":10800},
      {"strand":"-","sample":"FLAG-RIG-I","pos":11061,"cov":5330},
      {"strand":"-","sample":"FLAG-RIG-I","pos":11076,"cov":3280},
      {"strand":"-","sample":"FLAG-RIG-I","pos":11090,"cov":2000},
      {"strand":"-","sample":"FLAG-RIG-I","pos":11105,"cov":0},
      {"strand":"-","sample":"w/o FLAG-RIG-I","pos":70,"cov":0},
      {"strand":"-","sample":"w/o FLAG-RIG-I","pos":238,"cov":680},
      {"strand":"-","sample":"w/o FLAG-RIG-I","pos":295,"cov":890},
      {"strand":"-","sample":"w/o FLAG-RIG-I","pos":352,"cov":400},
      {"strand":"-","sample":"w/o FLAG-RIG-I","pos":500,"cov":350},
      {"strand":"-","sample":"w/o FLAG-RIG-I","pos":1000,"cov":300},
      {"strand":"-","sample":"w/o FLAG-RIG-I","pos":2000,"cov":350},
      {"strand":"-","sample":"w/o FLAG-RIG-I","pos":3000,"cov":250},
      {"strand":"-","sample":"w/o FLAG-RIG-I","pos":4000,"cov":300},
      {"strand":"-","sample":"w/o FLAG-RIG-I","pos":5000,"cov":300},
      {"strand":"-","sample":"w/o FLAG-RIG-I","pos":6000,"cov":350},
      {"strand":"-","sample":"w/o FLAG-RIG-I","pos":6418,"cov":350},
      {"strand":"-","sample":"w/o FLAG-RIG-I","pos":6860,"cov":890},
      {"strand":"-","sample":"w/o FLAG-RIG-I","pos":6910,"cov":550},
      {"strand":"-","sample":"w/o FLAG-RIG-I","pos":7400,"cov":680},
      {"strand":"-","sample":"w/o FLAG-RIG-I","pos":7900,"cov":550},
      {"strand":"-","sample":"w/o FLAG-RIG-I","pos":8380,"cov":750},
      {"strand":"-","sample":"w/o FLAG-RIG-I","pos":8780,"cov":680},
      {"strand":"-","sample":"w/o FLAG-RIG-I","pos":8880,"cov":890},
      {"strand":"-","sample":"w/o FLAG-RIG-I","pos":9370,"cov":550},
      {"strand":"-","sample":"w/o FLAG-RIG-I","pos":9860,"cov":820},
      {"strand":"-","sample":"w/o FLAG-RIG-I","pos":10078,"cov":1230},
      {"strand":"-","sample":"w/o FLAG-RIG-I","pos":10112,"cov":1910},
      {"strand":"-","sample":"w/o FLAG-RIG-I","pos":10150,"cov":1500},
      {"strand":"-","sample":"w/o FLAG-RIG-I","pos":10200,"cov":1230},
      {"strand":"-","sample":"w/o FLAG-RIG-I","pos":10300,"cov":550},
      {"strand":"-","sample":"w/o FLAG-RIG-I","pos":10450,"cov":200},
      {"strand":"-","sample":"w/o FLAG-RIG-I","pos":10600,"cov":680},
      {"strand":"-","sample":"w/o FLAG-RIG-I","pos":10740,"cov":1090},
      {"strand":"-","sample":"w/o FLAG-RIG-I","pos":10840,"cov":890},
      {"strand":"-","sample":"w/o FLAG-RIG-I","pos":11036,"cov":550},
      {"strand":"-","sample":"w/o FLAG-RIG-I","pos":11105,"cov":0}
    ]
  },
  "spacing": 89,
  "vconcat": [
    {
      "spacing": 0,
      "bounds": "flush",
      "vconcat": [
        {
          "width": 987,
          "height": 242,
          "title": {"text": "A", "anchor": "start", "frame": "group", "fontSize": 25, "fontWeight": "bold", "color": "#111", "dx": -20, "offset": 23},
          "data": {"name": "coverage"},
          "transform": [{"filter": "datum.strand == '+'"}],
          "layer": [
            {
              "mark": {"type": "line", "strokeWidth": 2.5},
              "encoding": {
                "x": {"field": "pos", "type": "quantitative", "scale": {"domain": [1, 51, 11105, 11161], "range": [0, 118, 868, 987], "nice": false, "zero": false}, "axis": null},
                "y": {
                  "field": "cov", "type": "quantitative",
                  "scale": {"domain": [0, 800000], "nice": false},
                  "axis": {"values": [0, 200000, 400000, 600000, 800000], "format": "d", "offset": -118, "labelFontSize": 22, "tickSize": 9, "tickWidth": 1.5, "domainWidth": 1.5, "labelPadding": 3, "title": "coverage", "titleFontSize": 20, "titleFontWeight": "normal", "titlePadding": 14}
                },
                "color": {
                  "field": "sample", "type": "nominal",
                  "scale": {"domain": ["FLAG-RIG-I", "w/o FLAG-RIG-I"], "range": ["#2b3990", "#e8982f"]},
                  "legend": {"orient": "none", "legendX": 607, "legendY": -57, "title": "(+) strand", "titleFontSize": 19, "titleFontWeight": "normal", "titlePadding": 12, "labelFontSize": 20, "symbolType": "stroke", "symbolSize": 784, "symbolStrokeWidth": 2.5, "symbolOffset": -44, "labelOffset": 12, "rowPadding": 10, "padding": 0}
                }
              }
            },
            {
              "mark": {"type": "rule", "color": "#222", "strokeWidth": 2},
              "encoding": {"x": {"datum": 51}, "x2": {"datum": 11105}, "y": {"datum": 0}}
            }
          ]
        },
        {
          "width": 987,
          "height": 56,
          "data": {"name": "segments"},
          "transform": [{"calculate": "(datum.start + datum.end) / 2", "as": "mid"}],
          "layer": [
            {
              "mark": {"type": "rect", "fill": "white", "stroke": "#333", "strokeWidth": 1.6},
              "encoding": {
                "x": {"field": "start", "type": "quantitative", "scale": {"domain": [1, 51, 11105, 11161], "range": [0, 118, 868, 987], "nice": false, "zero": false},
                  "axis": {"values": [1, 51, 1386, 2209, 3048, 4722, 6000, 7000, 8000, 9000, 10000, 11105, 11161], "format": "d", "labelFontSize": 15, "tickSize": 7, "tickWidth": 1.5, "domainWidth": 1.6, "labelPadding": 7, "title": null, "labelFlush": false, "labelOverlap": false}},
                "x2": {"field": "end"},
                "y": {"datum": 0, "type": "quantitative", "scale": {"domain": [0, 1.4], "nice": false, "zero": false}, "axis": null},
                "y2": {"datum": 1}
              }
            },
            {
              "transform": [{"filter": "datum.name != 'leader'"}],
              "mark": {"type": "rule", "color": "#aaa", "strokeWidth": 1.5, "strokeDash": [1.5, 1.5]},
              "encoding": {"x": {"field": "start", "type": "quantitative"}, "y": {"datum": 1}, "y2": {"datum": 1.4}}
            },
            {
              "transform": [{"filter": "datum.name == 'leader'"}],
              "mark": {"type": "rule", "color": "#333", "strokeWidth": 1.5, "strokeDash": [8, 5]},
              "encoding": {"x": {"field": "start", "type": "quantitative"}, "y": {"datum": 1}, "x2": {"field": "end"}, "y2": {"datum": 1.4}}
            },
            {
              "transform": [{"filter": "datum.name == 'trailer'"}],
              "mark": {"type": "rule", "color": "#333", "strokeWidth": 1.5, "strokeDash": [8, 5]},
              "encoding": {"x": {"field": "start", "type": "quantitative"}, "y": {"datum": 1.4}, "x2": {"field": "end"}, "y2": {"datum": 1}}
            },
            {
              "transform": [{"filter": "datum.name != 'leader' && datum.name != 'trailer'"}],
              "mark": {"type": "text", "fontSize": 26, "fontWeight": "bold", "color": "#231f20", "baseline": "middle"},
              "encoding": {"x": {"field": "mid", "type": "quantitative"}, "y": {"datum": 0.5}, "text": {"field": "name"}}
            },
            {
              "transform": [{"filter": "datum.name == 'leader' || datum.name == 'trailer'"}],
              "mark": {"type": "text", "fontSize": 26, "fontWeight": "bold", "fontStyle": "italic", "color": "#231f20", "baseline": "middle"},
              "encoding": {"x": {"field": "mid", "type": "quantitative"}, "y": {"datum": 0.5}, "text": {"field": "name"}}
            },
            {
              "transform": [{"filter": "datum.name == 'leader'"}],
              "mark": {"type": "text", "text": "3′", "fontSize": 26, "color": "#231f20", "baseline": "middle", "dx": -16},
              "encoding": {"x": {"field": "start", "type": "quantitative"}, "y": {"datum": 0.5}}
            },
            {
              "transform": [{"filter": "datum.name == 'trailer'"}],
              "mark": {"type": "text", "text": "5′", "fontSize": 26, "color": "#231f20", "baseline": "middle", "dx": 14},
              "encoding": {"x": {"field": "end", "type": "quantitative"}, "y": {"datum": 0.5}}
            }
          ]
        }
      ]
    },
    {
      "spacing": 0,
      "bounds": "flush",
      "vconcat": [
        {
          "width": 987,
          "height": 244,
          "title": {"text": "B", "anchor": "start", "frame": "group", "fontSize": 25, "fontWeight": "bold", "color": "#111", "dx": -20, "offset": 23},
          "data": {"name": "coverage"},
          "transform": [{"filter": "datum.strand == '-'"}],
          "layer": [
            {
              "mark": {"type": "line", "strokeWidth": 2},
              "encoding": {
                "x": {"field": "pos", "type": "quantitative", "scale": {"domain": [1, 51, 11105, 11161], "range": [0, 118, 868, 987], "nice": false, "zero": false}, "axis": null},
                "y": {
                  "field": "cov", "type": "quantitative",
                  "scale": {"domain": [0, 50000], "nice": false},
                  "axis": {"values": [0, 10000, 20000, 30000, 40000, 50000], "format": "d", "offset": -118, "labelFontSize": 22, "tickSize": 9, "tickWidth": 1.5, "domainWidth": 1.5, "labelPadding": 3, "title": "coverage", "titleFontSize": 20, "titleFontWeight": "normal", "titlePadding": 14}
                },
                "color": {
                  "field": "sample", "type": "nominal",
                  "scale": {"domain": ["FLAG-RIG-I", "w/o FLAG-RIG-I"], "range": ["#2b3990", "#e8982f"]},
                  "legend": {"orient": "none", "legendX": 607, "legendY": -47, "title": "(-) strand", "titleFontSize": 19, "titleFontWeight": "normal", "titlePadding": 14, "labelFontSize": 20, "symbolType": "stroke", "symbolSize": 784, "symbolStrokeWidth": 2.5, "symbolOffset": -44, "labelOffset": 12, "rowPadding": 17, "padding": 0}
                }
              }
            },
            {
              "mark": {"type": "rule", "color": "#222", "strokeWidth": 2},
              "encoding": {"x": {"datum": 51}, "x2": {"datum": 11105}, "y": {"datum": 0}}
            }
          ]
        },
        {
          "width": 987,
          "height": 56,
          "data": {"name": "segments"},
          "transform": [{"calculate": "(datum.start + datum.end) / 2", "as": "mid"}],
          "layer": [
            {
              "mark": {"type": "rect", "fill": "white", "stroke": "#333", "strokeWidth": 1.6},
              "encoding": {
                "x": {"field": "start", "type": "quantitative", "scale": {"domain": [1, 51, 11105, 11161], "range": [0, 118, 868, 987], "nice": false, "zero": false},
                  "axis": {"values": [1, 51, 1386, 2209, 3048, 4722, 6000, 7000, 8000, 9000, 10000, 11105, 11161], "format": "d", "labelFontSize": 15, "tickSize": 7, "tickWidth": 1.5, "domainWidth": 1.6, "labelPadding": 7, "title": null, "labelFlush": false, "labelOverlap": false}},
                "x2": {"field": "end"},
                "y": {"datum": 0, "type": "quantitative", "scale": {"domain": [0, 1.4], "nice": false, "zero": false}, "axis": null},
                "y2": {"datum": 1}
              }
            },
            {
              "transform": [{"filter": "datum.name != 'leader'"}],
              "mark": {"type": "rule", "color": "#aaa", "strokeWidth": 1.5, "strokeDash": [1.5, 1.5]},
              "encoding": {"x": {"field": "start", "type": "quantitative"}, "y": {"datum": 1}, "y2": {"datum": 1.4}}
            },
            {
              "transform": [{"filter": "datum.name == 'leader'"}],
              "mark": {"type": "rule", "color": "#333", "strokeWidth": 1.5, "strokeDash": [8, 5]},
              "encoding": {"x": {"field": "start", "type": "quantitative"}, "y": {"datum": 1}, "x2": {"field": "end"}, "y2": {"datum": 1.4}}
            },
            {
              "transform": [{"filter": "datum.name == 'trailer'"}],
              "mark": {"type": "rule", "color": "#333", "strokeWidth": 1.5, "strokeDash": [8, 5]},
              "encoding": {"x": {"field": "start", "type": "quantitative"}, "y": {"datum": 1.4}, "x2": {"field": "end"}, "y2": {"datum": 1}}
            },
            {
              "transform": [{"filter": "datum.name != 'leader' && datum.name != 'trailer'"}],
              "mark": {"type": "text", "fontSize": 26, "fontWeight": "bold", "color": "#231f20", "baseline": "middle"},
              "encoding": {"x": {"field": "mid", "type": "quantitative"}, "y": {"datum": 0.5}, "text": {"field": "name"}}
            },
            {
              "transform": [{"filter": "datum.name == 'leader' || datum.name == 'trailer'"}],
              "mark": {"type": "text", "fontSize": 26, "fontWeight": "bold", "fontStyle": "italic", "color": "#231f20", "baseline": "middle"},
              "encoding": {"x": {"field": "mid", "type": "quantitative"}, "y": {"datum": 0.5}, "text": {"field": "name"}}
            },
            {
              "transform": [{"filter": "datum.name == 'leader'"}],
              "mark": {"type": "text", "text": "3′", "fontSize": 26, "color": "#231f20", "baseline": "middle", "dx": -16},
              "encoding": {"x": {"field": "start", "type": "quantitative"}, "y": {"datum": 0.5}}
            },
            {
              "transform": [{"filter": "datum.name == 'trailer'"}],
              "mark": {"type": "text", "text": "5′", "fontSize": 26, "color": "#231f20", "baseline": "middle", "dx": 14},
              "encoding": {"x": {"field": "end", "type": "quantitative"}, "y": {"datum": 0.5}}
            }
          ]
        }
      ]
    }
  ]
}
